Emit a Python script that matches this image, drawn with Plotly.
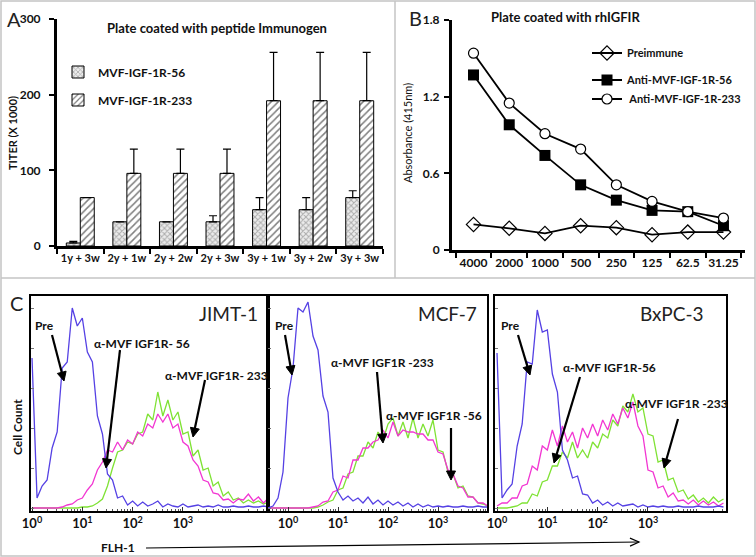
import math
import plotly.graph_objects as go

W, H = 756, 557
def px(x): return x / W
def py(y): return 1 - y / H

FONT = "Lato"

# ---------------- Panel A data ----------------
a_categories = ["1y + 3w", "2y + 1w", "2y + 2w", "2y + 3w", "3y + 1w", "3y + 2w", "3y + 3w"]
a_titer_56 = [4, 32, 32, 32, 48, 48, 64]
a_err_56 = [2, 0, 0, 8, 16, 16, 9]
a_titer_233 = [64, 96, 96, 96, 192, 192, 192]
a_err_233 = [0, 32, 32, 32, 64, 64, 64]

# ---------------- Panel B data ----------------
b_dilutions = ["4000", "2000", "1000", "500", "250", "125", "62.5", "31.25"]
b_preimmune = [0.20, 0.17, 0.13, 0.19, 0.175, 0.12, 0.14, 0.14]
b_anti_56 = [1.37, 0.98, 0.74, 0.51, 0.39, 0.31, 0.30, 0.19]
b_anti_233 = [1.54, 1.15, 0.91, 0.79, 0.51, 0.38, 0.30, 0.25]

# ---------------- Panel C data (FLH-1 decades, cell counts) ----------------
jimt_decades = [0.0, 0.1, 0.2, 0.3, 0.4, 0.5, 0.6, 0.7, 0.8, 0.9, 1.0, 1.1, 1.2, 1.3, 1.4, 1.5,
                1.6, 1.7, 1.8, 1.9, 2.0, 2.1, 2.2, 2.3, 2.4, 2.5, 2.6, 2.7, 2.8, 2.9, 3.0, 3.1,
                3.2, 3.3, 3.4, 3.5, 3.6, 3.7, 3.8, 3.9, 4.0, 4.1, 4.2, 4.3, 4.4, 4.5, 4.6, 4.7]
jimt_pre = [150, 10, 22, 28, 60, 76, 140, 146, 200, 182, 190, 156, 146, 92, 74, 34,
            28, 10, 12, 3, 7, 2, 6, 2, 4, 7, 1, 4, 2, 1, 4, 1,
            2, 3, 1, 2, 1, 3, 1, 1, 2, 1, 1, 2, 1, 1, 2, 1]
jimt_233 = [0, 0, 0, 0, 0, 0, 0, 0, 0, 0, 1, 1, 2, 5, 9, 22,
            40, 56, 58, 66, 64, 74, 76, 94, 88, 116, 92, 108, 88, 96, 74, 76,
            52, 58, 38, 40, 22, 26, 12, 16, 8, 10, 5, 8, 5, 7, 4, 6]
jimt_56 = [0, 0, 0, 0, 0, 0, 1, 3, 4, 8, 10, 18, 24, 38, 46, 58,
           56, 66, 58, 68, 64, 76, 72, 84, 80, 94, 86, 94, 80, 84, 66, 62,
           48, 42, 28, 26, 15, 14, 8, 9, 5, 9, 8, 14, 7, 11, 5, 10]

mcf_decades = [-0.4, -0.3, -0.2, -0.1, 0.0, 0.1, 0.2, 0.3, 0.4, 0.5, 0.6, 0.7, 0.8, 0.9, 1.0,
               1.1, 1.2, 1.3, 1.4, 1.5, 1.6, 1.7, 1.8, 1.9, 2.0, 2.1, 2.2, 2.3, 2.4, 2.5,
               2.6, 2.7, 2.8, 2.9, 3.0, 3.1, 3.2, 3.3, 3.4, 3.5, 3.6, 3.7, 3.8, 3.9, 4.0]
mcf_pre = [0, 2, 10, 36, 110, 140, 200, 196, 206, 172, 158, 112, 96, 30, 16,
           8, 12, 7, 10, 5, 11, 4, 8, 3, 7, 3, 6, 2, 5, 1,
           4, 1, 3, 1, 2, 1, 2, 1, 1, 2, 1, 1, 2, 1, 1]
mcf_233 = [0, 0, 0, 0, 0, 0, 0, 0, 0, 0, 1, 3, 6, 8, 18,
           20, 34, 36, 52, 52, 66, 60, 76, 68, 84, 90, 72, 86, 70, 90,
           70, 84, 72, 88, 58, 56, 36, 34, 20, 22, 12, 11, 5, 4, 2]
mcf_56 = [0, 0, 0, 0, 0, 0, 0, 0, 0, 1, 2, 6, 7, 16, 18,
          32, 30, 48, 48, 60, 60, 66, 68, 78, 70, 86, 72, 78, 76, 76,
          74, 74, 68, 68, 56, 54, 38, 34, 22, 20, 11, 11, 5, 5, 2]

bx_decades = [0.0, 0.1, 0.2, 0.3, 0.4, 0.5, 0.6, 0.7, 0.8, 0.9, 1.0, 1.1, 1.2, 1.3, 1.4, 1.5,
              1.6, 1.7, 1.8, 1.9, 2.0, 2.1, 2.2, 2.3, 2.4, 2.5, 2.6, 2.7, 2.8, 2.9, 3.0, 3.1,
              3.2, 3.3, 3.4, 3.5, 3.6, 3.7, 3.8, 3.9, 4.0, 4.1, 4.2, 4.3, 4.4, 4.5]
bx_pre = [155, 10, 18, 24, 62, 84, 146, 144, 198, 176, 178, 134, 116, 58, 48, 30,
          32, 14, 13, 5, 8, 3, 6, 2, 5, 2, 3, 4, 1, 3, 1, 2,
          1, 2, 1, 1, 2, 1, 1, 1, 2, 1, 1, 1, 2, 1]
bx_233 = [0, 0, 0, 1, 2, 5, 5, 14, 12, 26, 28, 42, 42, 56, 50, 66,
          50, 58, 50, 66, 60, 74, 70, 88, 82, 102, 96, 114, 96, 100, 74, 72,
          46, 48, 28, 30, 16, 18, 9, 13, 6, 10, 5, 11, 6, 9]
bx_56 = [2, 5, 5, 10, 10, 22, 24, 42, 38, 62, 58, 78, 62, 82, 66, 76,
         60, 80, 70, 84, 72, 88, 78, 94, 84, 100, 90, 106, 82, 72, 38, 36,
         20, 22, 11, 15, 7, 8, 4, 8, 3, 7, 3, 6, 2, 5]

BLUE = "#5541E4"
MAGENTA = "#F236D2"
GREEN = "#7FE234"

fig = go.Figure()

# ---------------- Panel A traces ----------------
fig.add_trace(go.Bar(
    x=a_categories, y=a_titer_56, name="MVF-IGF-1R-56", xaxis="x", yaxis="y",
    marker=dict(color="white", line=dict(color="black", width=1),
                pattern=dict(shape="x", fgcolor="#6e6e6e", bgcolor="#ececec", size=4, solidity=0.45)),
    error_y=dict(type="data", symmetric=False, array=a_err_56, arrayminus=[0] * len(a_err_56),
                 color="black", thickness=1.2, width=4),
    legend="legend"))
fig.add_trace(go.Bar(
    x=a_categories, y=a_titer_233, name="MVF-IGF-1R-233", xaxis="x", yaxis="y",
    marker=dict(color="white", line=dict(color="black", width=1),
                pattern=dict(shape="/", fgcolor="black", bgcolor="white", size=5, solidity=0.3)),
    error_y=dict(type="data", symmetric=False, array=a_err_233, arrayminus=[0] * len(a_err_233),
                 color="black", thickness=1.2, width=4),
    legend="legend2"))

# ---------------- Panel B traces ----------------
fig.add_trace(go.Scatter(
    x=b_dilutions, y=b_preimmune, name="Preimmune", xaxis="x2", yaxis="y2",
    mode="lines+markers", line=dict(color="black", width=1.8),
    marker=dict(symbol="diamond-open", size=11, color="black", line=dict(width=1.2)),
    legend="legend3"))
fig.add_trace(go.Scatter(
    x=b_dilutions, y=b_anti_56, name="Anti-MVF-IGF-1R-56", xaxis="x2", yaxis="y2",
    mode="lines+markers", line=dict(color="black", width=1.8),
    marker=dict(symbol="square", size=11, color="black"),
    legend="legend4"))
fig.add_trace(go.Scatter(
    x=b_dilutions, y=b_anti_233, name=" Anti-MVF-IGF-1R-233", xaxis="x2", yaxis="y2",
    mode="lines+markers", line=dict(color="black", width=1.8),
    marker=dict(symbol="circle", size=10, color="white", line=dict(color="black", width=1.2)),
    legend="legend5"))

# ---------------- Panel C traces ----------------
hist_sets = [
    ("x3", "y3", jimt_decades, jimt_233, jimt_56, jimt_pre),
    ("x4", "y4", mcf_decades, mcf_233, mcf_56, mcf_pre),
    ("x5", "y5", bx_decades, bx_233, bx_56, bx_pre),
]
for xa, ya, dec, g, m, b in hist_sets:
    flh = [10 ** d for d in dec]
    for vals, col in ((g, GREEN), (m, MAGENTA), (b, BLUE)):
        fig.add_trace(go.Scatter(x=flh, y=vals, xaxis=xa, yaxis=ya, mode="lines",
                                 line=dict(color=col, width=1.3), showlegend=False,
                                 hoverinfo="skip"))

# ---------------- Axes ----------------
tickfont_b = dict(family=FONT, size=12, color="#111", weight="bold")
common_cat = dict(type="category", showline=True, linecolor="black", linewidth=3,
                  ticks="outside", tickson="boundaries", ticklen=5, tickwidth=2,
                  tickcolor="black", showgrid=False, zeroline=False, fixedrange=True,
                  tickangle=0)
common_val = dict(showline=True, linecolor="black", linewidth=3, ticks="outside",
                  ticklen=5, tickwidth=2, tickcolor="black", showgrid=False,
                  zeroline=False, fixedrange=True, tickfont=tickfont_b)

minor_vals = [k * 10 ** e for e in range(-1, 5) for k in range(2, 10)]
logtext = ["<b>10<sup>0</sup></b>", "<b>10<sup>1</sup></b>", "<b>10<sup>2</sup></b>", "<b>10<sup>3</sup></b>"]
common_log = dict(type="log", showline=True, mirror=True, linecolor="black", linewidth=1.5,
                  tickvals=[1, 10, 100, 1000], ticktext=logtext, ticks="inside",
                  ticklen=4, tickcolor="#333", showgrid=False, zeroline=False,
                  tickfont=dict(family=FONT, size=13, color="#111"),
                  minor=dict(tickvals=minor_vals, ticks="inside", ticklen=2.5, tickcolor="#555"),
                  fixedrange=True)
common_hy = dict(range=[-3, 212], showline=True, mirror=True, linecolor="black", linewidth=1.5,
                 showticklabels=False, ticks="inside", ticklen=3, tickcolor="#777",
                 dtick=40, showgrid=False, zeroline=False, fixedrange=True)

fig.update_layout(
    xaxis=dict(domain=[px(57), px(383)], anchor="y", tickfont=dict(family=FONT, size=11, color="#111", weight="bold"), **common_cat),
    yaxis=dict(domain=[py(246), py(19)], anchor="x", range=[0, 300], dtick=100,
               ticklabelstandoff=6, **common_val),
    xaxis2=dict(domain=[px(452), px(745)], anchor="y2", tickfont=tickfont_b, **common_cat),
    yaxis2=dict(domain=[py(250), py(20)], anchor="x2", range=[0, 1.8],
                tickvals=[0, 0.6, 1.2, 1.8], ticktext=["0", "0.6", "1.2", "1.8"],
                ticklabelstandoff=2, **common_val),
    xaxis3=dict(domain=[px(31), px(268)], anchor="y3", range=[-0.02, 4.69], **common_log),
    yaxis3=dict(domain=[py(511), py(296)], anchor="x3", **common_hy),
    xaxis4=dict(domain=[px(268), px(487)], anchor="y4", range=[-0.4, 3.98], **common_log),
    yaxis4=dict(domain=[py(511), py(296)], anchor="x4", **common_hy),
    xaxis5=dict(domain=[px(495), px(726)], anchor="y5", range=[-0.04, 4.55], **common_log),
    yaxis5=dict(domain=[py(511), py(296)], anchor="x5", **common_hy),
)

legend_common = dict(xanchor="left", yanchor="middle", bgcolor="rgba(0,0,0,0)",
                     borderwidth=0, font=dict(family=FONT, size=12, color="#111", weight="bold"))
legend_b = dict(xanchor="left", yanchor="middle", bgcolor="rgba(0,0,0,0)",
                borderwidth=0, font=dict(family=FONT, size=11, color="#111", weight="bold"))
fig.update_layout(
    legend=dict(x=px(58), y=py(72), **legend_common),
    legend2=dict(x=px(58), y=py(100), **legend_common),
    legend3=dict(x=px(587), y=py(53), **legend_b),
    legend4=dict(x=px(587), y=py(80), **legend_b),
    legend5=dict(x=px(587), y=py(99), **legend_b),
)

# ---------------- Annotations ----------------
ann = []
def text(t, x, y, size=12, bold=True, angle=0, xanchor="center", color="#111"):
    ann.append(dict(text=t, x=px(x), y=py(y), xref="paper", yref="paper", showarrow=False,
                    xanchor=xanchor, yanchor="middle", textangle=angle,
                    font=dict(family=FONT, size=size, color=color,
                              weight="bold" if bold else "normal")))

shapes = []
def arrow(tail, head, width=2.2, head_len=9.0, head_half=4.5, open_head=False):
    dx, dy = head[0] - tail[0], head[1] - tail[1]
    L = math.hypot(dx, dy)
    ux, uy = dx / L, dy / L
    nx, ny = -uy, ux
    bx, by = head[0] - ux * head_len, head[1] - uy * head_len
    end = head if open_head else (bx + ux * 1.0, by + uy * 1.0)
    shapes.append(dict(type="line", xref="paper", yref="paper",
                       x0=px(tail[0]), y0=py(tail[1]), x1=px(end[0]), y1=py(end[1]),
                       line=dict(color="black", width=width)))
    p1 = (bx + nx * head_half, by + ny * head_half)
    p2 = (bx - nx * head_half, by - ny * head_half)
    if open_head:
        path = (f"M {px(p1[0])},{py(p1[1])} L {px(head[0])},{py(head[1])} "
                f"L {px(p2[0])},{py(p2[1])}")
        shapes.append(dict(type="path", xref="paper", yref="paper", path=path,
                           line=dict(color="black", width=width)))
    else:
        path = (f"M {px(head[0])},{py(head[1])} L {px(p1[0])},{py(p1[1])} "
                f"L {px(p2[0])},{py(p2[1])} Z")
        shapes.append(dict(type="path", xref="paper", yref="paper", path=path,
                           fillcolor="black", line=dict(color="black", width=1)))

# Panel A
text("A", 14, 19, size=20, bold=False, color="#222")
text("Plate coated with peptide Immunogen", 217, 28, size=13)
text("TITER (X 1000)", 13, 133, size=11, angle=-90)
# Panel B
text("B", 415, 18, size=20, bold=False, color="#222")
text("Plate coated with rhIGFIR", 565, 17, size=13)
text("Absorbance (415nm)", 408, 133, size=11, bold=False, angle=-90)
# Panel C
text("C", 16, 303, size=20, bold=False, color="#222")
text("JIMT-1", 228, 313, size=19, bold=False, color="#222")
text("MCF-7", 447, 313, size=19, bold=False, color="#222")
text("BxPC-3", 672, 313, size=19, bold=False, color="#222")
text("Cell Count", 17, 427, size=12, angle=-90)
text("FLH-1", 118, 547, size=12)

text("Pre", 44, 325)
text("α-MVF IGF1R- 56", 142, 343)
text("α-MVF IGF1R- 233", 163, 375, xanchor="left")
text("Pre", 284, 325)
text("α-MVF IGF1R -233", 382, 362)
text("α-MVF IGF1R -56", 434, 415)
text("Pre", 510, 325)
text("α-MVF IGF1R-56", 609, 367)
text("α-MVF IGF1R -233", 676, 403)

arrow((52, 335), (64, 381))
arrow((120, 350), (106, 468))
arrow((205, 380), (193, 437))
arrow((285, 335), (292, 375))
arrow((377, 372), (383, 443))
arrow((451, 428), (451, 480))
arrow((518, 335), (530, 375))
arrow((580, 377), (554, 463))
arrow((678, 419), (664, 468))
arrow((146, 548), (639, 542), width=1.2, head_len=9, head_half=4, open_head=True)

# ---------------- Panel frames ----------------
shapes += [
    dict(type="rect", xref="paper", yref="paper", x0=px(1), x1=px(755), y0=py(556), y1=py(1),
         line=dict(color="#c4c4c4", width=1.5)),
    dict(type="line", xref="paper", yref="paper", x0=px(395), x1=px(395), y0=py(278), y1=py(1),
         line=dict(color="#c4c4c4", width=1.5)),
    dict(type="line", xref="paper", yref="paper", x0=px(1), x1=px(755), y0=py(278), y1=py(278),
         line=dict(color="#c4c4c4", width=1.5)),
]

fig.update_layout(
    width=W, height=H, margin=dict(l=0, r=0, t=0, b=0, autoexpand=False),
    paper_bgcolor="white", plot_bgcolor="white",
    barmode="group", bargap=0.4, bargroupgap=0,
    annotations=ann, shapes=shapes,
    font=dict(family=FONT, color="#111"),
)

fig.write_html("out.html", config={"displayModeBar": False},
               post_script="document.body.style.margin='0';document.body.style.padding='0';")
